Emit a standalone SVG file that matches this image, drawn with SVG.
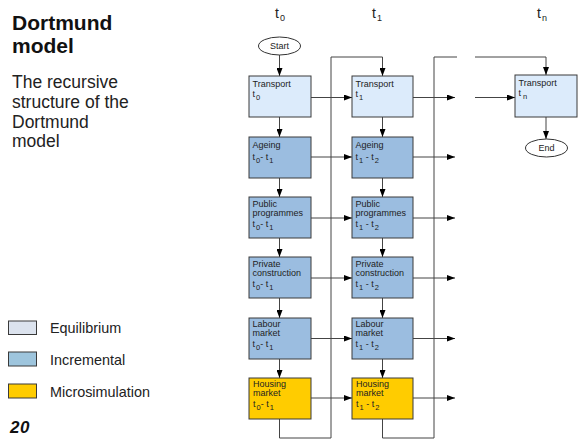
<svg xmlns="http://www.w3.org/2000/svg" width="583" height="443" viewBox="0 0 583 443">
  <style>
    .sans { font-family: "Liberation Sans", Arial, sans-serif; }
    .title { font-size: 21px; font-weight: bold; fill: #111; }
    .desc { font-size: 17.5px; fill: #222; }
    .legend { font-size: 14.4px; fill: #222; }
    .time { font-size: 14px; fill: #222; }
    .time .sub { font-size: 9px; }
    .lbl { font-size: 9px; fill: #222; }
    .lbl .sub { font-size: 7.5px; }
    .box { stroke: #3a3a3a; stroke-width: 1; }
    .equ { fill: #dcebfb; }
    .inc { fill: #9bbde0; }
    .mic { fill: #ffcc00; }
    .term { fill: #fff; stroke: #333; stroke-width: 1; }
    .wire { fill: none; stroke: #444; stroke-width: 1; }
    .arrow { marker-end: url(#head); }
  </style>
  <defs>
    <marker id="head" viewBox="0 0 8 6" refX="8" refY="3" markerWidth="8" markerHeight="6" markerUnits="userSpaceOnUse" orient="auto">
      <path d="M0,0 L8,3 L0,6 Z" fill="#000"/>
    </marker>
  </defs>

  <!-- heading -->
  <g id="heading" class="sans">
    <text class="title" x="12" y="30">Dortmund</text>
    <text class="title" x="12" y="53">model</text>
    <text class="desc" x="12" y="88">The recursive</text>
    <text class="desc" x="12" y="108">structure of the</text>
    <text class="desc" x="12" y="127.5">Dortmund</text>
    <text class="desc" x="12" y="147">model</text>
  </g>

  <!-- legend -->
  <g id="legend" class="sans">
    <rect class="box" x="8.5" y="321" width="28" height="13.5" fill="#dce3ee"/>
    <text class="legend" x="50" y="333">Equilibrium</text>
    <rect class="box" x="8.5" y="352" width="28" height="14" fill="#9ec5dd"/>
    <text class="legend" x="50" y="364.5">Incremental</text>
    <rect class="box" x="8.5" y="384" width="28" height="14" fill="#ffcc00"/>
    <text class="legend" x="50" y="396.5">Microsimulation</text>
  </g>

  <text id="page-number" class="sans" x="10" y="433" font-size="17" font-weight="bold" font-style="italic" fill="#111" letter-spacing="0.5">20</text>

  <!-- time axis -->
  <g id="time-labels" class="sans time">
    <text x="275" y="18">t<tspan class="sub" dx="1" dy="3">0</tspan></text>
    <text x="372" y="18">t<tspan class="sub" dx="1" dy="3">1</tspan></text>
    <text x="537" y="18">t<tspan class="sub" dx="1" dy="3">n</tspan></text>
  </g>

  <!-- connectors -->
  <g id="connectors">
    <!-- start / end -->
    <line class="wire arrow" x1="279.5" y1="55" x2="279.5" y2="76"/>
    <line class="wire arrow" x1="546" y1="117" x2="546" y2="139"/>

    <!-- column t0, top to bottom -->
    <line class="wire arrow" x1="279.5" y1="117" x2="279.5" y2="137"/>
    <line class="wire arrow" x1="279.5" y1="178" x2="279.5" y2="197"/>
    <line class="wire arrow" x1="279.5" y1="238" x2="279.5" y2="257"/>
    <line class="wire arrow" x1="279.5" y1="298" x2="279.5" y2="318"/>
    <line class="wire arrow" x1="279.5" y1="359" x2="279.5" y2="378"/>

    <!-- column t1, top to bottom -->
    <line class="wire arrow" x1="382.5" y1="117" x2="382.5" y2="137"/>
    <line class="wire arrow" x1="382.5" y1="178" x2="382.5" y2="197"/>
    <line class="wire arrow" x1="382.5" y1="238" x2="382.5" y2="257"/>
    <line class="wire arrow" x1="382.5" y1="298" x2="382.5" y2="318"/>
    <line class="wire arrow" x1="382.5" y1="359" x2="382.5" y2="378"/>

    <!-- t0 -> t1 -->
    <line class="wire arrow" x1="311" y1="97.5" x2="352" y2="97.5"/>
    <line class="wire arrow" x1="311" y1="157" x2="352" y2="157"/>
    <line class="wire arrow" x1="311" y1="218" x2="352" y2="218"/>
    <line class="wire arrow" x1="311" y1="278" x2="352" y2="278"/>
    <line class="wire arrow" x1="311" y1="338.5" x2="352" y2="338.5"/>
    <line class="wire arrow" x1="311" y1="398" x2="352" y2="398"/>

    <!-- t1 -> next step -->
    <line class="wire arrow" x1="413" y1="97.5" x2="455" y2="97.5"/>
    <line class="wire arrow" x1="413" y1="157" x2="455" y2="157"/>
    <line class="wire arrow" x1="413" y1="218" x2="455" y2="218"/>
    <line class="wire arrow" x1="413" y1="278" x2="455" y2="278"/>
    <line class="wire arrow" x1="413" y1="338.5" x2="455" y2="338.5"/>
    <line class="wire arrow" x1="413" y1="398" x2="455" y2="398"/>

    <!-- feedback loops -->
    <path class="wire arrow" d="M279.5,419 V438 H331 V57 H382.5 V76"/>
    <path class="wire" d="M382.5,419 V438 H434 V57 H457"/>
    <path class="wire arrow" d="M475,57 H546 V75"/>
    <line class="wire arrow" x1="475" y1="97.5" x2="515" y2="97.5"/>
  </g>

  <!-- terminals -->
  <g id="start" class="sans">
    <ellipse class="term" cx="279.5" cy="46" rx="21" ry="9"/>
    <text class="lbl" x="279.5" y="49" text-anchor="middle">Start</text>
  </g>
  <g id="end" class="sans">
    <ellipse class="term" cx="546.5" cy="148" rx="21" ry="9"/>
    <text class="lbl" x="546.5" y="151" text-anchor="middle">End</text>
  </g>

  <!-- column t0 -->
  <g id="transport-t0" class="sans">
    <rect class="box equ" x="249" y="76" width="62" height="41"/>
    <text class="lbl" x="252.5" y="87">Transport</text>
    <text class="lbl" x="252.5" y="97">t<tspan class="sub" dx="1" dy="2.5">0</tspan></text>
  </g>
  <g id="ageing-t0" class="sans">
    <rect class="box inc" x="249" y="137" width="62" height="41"/>
    <text class="lbl" x="252.5" y="148">Ageing</text>
    <text class="lbl" x="252.5" y="160">t<tspan class="sub" dx="1" dy="2.5">0</tspan><tspan dy="-2.5">- t</tspan><tspan class="sub" dx="1" dy="2.5">1</tspan></text>
  </g>
  <g id="public-t0" class="sans">
    <rect class="box inc" x="249" y="197" width="62" height="41"/>
    <text class="lbl" x="252.5" y="207">Public</text>
    <text class="lbl" x="252.5" y="215.5">programmes</text>
    <text class="lbl" x="252.5" y="227">t<tspan class="sub" dx="1" dy="2.5">0</tspan><tspan dy="-2.5">- t</tspan><tspan class="sub" dx="1" dy="2.5">1</tspan></text>
  </g>
  <g id="private-t0" class="sans">
    <rect class="box inc" x="249" y="257" width="62" height="41"/>
    <text class="lbl" x="252.5" y="267">Private</text>
    <text class="lbl" x="252.5" y="275.5">construction</text>
    <text class="lbl" x="252.5" y="287">t<tspan class="sub" dx="1" dy="2.5">0</tspan><tspan dy="-2.5">- t</tspan><tspan class="sub" dx="1" dy="2.5">1</tspan></text>
  </g>
  <g id="labour-t0" class="sans">
    <rect class="box inc" x="249" y="318" width="62" height="41"/>
    <text class="lbl" x="252.5" y="327">Labour</text>
    <text class="lbl" x="252.5" y="335.5">market</text>
    <text class="lbl" x="252.5" y="347">t<tspan class="sub" dx="1" dy="2.5">0</tspan><tspan dy="-2.5">- t</tspan><tspan class="sub" dx="1" dy="2.5">1</tspan></text>
  </g>
  <g id="housing-t0" class="sans">
    <rect class="box mic" x="249" y="378" width="62" height="41"/>
    <text class="lbl" x="253" y="387">Housing</text>
    <text class="lbl" x="253" y="395.5">market</text>
    <text class="lbl" x="253" y="407">t<tspan class="sub" dx="1" dy="2.5">0</tspan><tspan dy="-2.5">- t</tspan><tspan class="sub" dx="1" dy="2.5">1</tspan></text>
  </g>

  <!-- column t1 -->
  <g id="transport-t1" class="sans">
    <rect class="box equ" x="352" y="76" width="61" height="41"/>
    <text class="lbl" x="355.5" y="87">Transport</text>
    <text class="lbl" x="355.5" y="97">t<tspan class="sub" dx="1" dy="2.5">1</tspan></text>
  </g>
  <g id="ageing-t1" class="sans">
    <rect class="box inc" x="352" y="137" width="61" height="41"/>
    <text class="lbl" x="355.5" y="148">Ageing</text>
    <text class="lbl" x="355.5" y="160">t<tspan class="sub" dx="1" dy="2.5">1</tspan><tspan dy="-2.5"> - t</tspan><tspan class="sub" dx="1" dy="2.5">2</tspan></text>
  </g>
  <g id="public-t1" class="sans">
    <rect class="box inc" x="352" y="197" width="61" height="41"/>
    <text class="lbl" x="355.5" y="207">Public</text>
    <text class="lbl" x="355.5" y="215.5">programmes</text>
    <text class="lbl" x="355.5" y="227">t<tspan class="sub" dx="1" dy="2.5">1</tspan><tspan dy="-2.5"> - t</tspan><tspan class="sub" dx="1" dy="2.5">2</tspan></text>
  </g>
  <g id="private-t1" class="sans">
    <rect class="box inc" x="352" y="257" width="61" height="41"/>
    <text class="lbl" x="355.5" y="267">Private</text>
    <text class="lbl" x="355.5" y="275.5">construction</text>
    <text class="lbl" x="355.5" y="287">t<tspan class="sub" dx="1" dy="2.5">1</tspan><tspan dy="-2.5"> - t</tspan><tspan class="sub" dx="1" dy="2.5">2</tspan></text>
  </g>
  <g id="labour-t1" class="sans">
    <rect class="box inc" x="352" y="318" width="61" height="41"/>
    <text class="lbl" x="355.5" y="327">Labour</text>
    <text class="lbl" x="355.5" y="335.5">market</text>
    <text class="lbl" x="355.5" y="347">t<tspan class="sub" dx="1" dy="2.5">1</tspan><tspan dy="-2.5"> - t</tspan><tspan class="sub" dx="1" dy="2.5">2</tspan></text>
  </g>
  <g id="housing-t1" class="sans">
    <rect class="box mic" x="352" y="378" width="61" height="41"/>
    <text class="lbl" x="356" y="387">Housing</text>
    <text class="lbl" x="356" y="395.5">market</text>
    <text class="lbl" x="356" y="407">t<tspan class="sub" dx="1" dy="2.5">1</tspan><tspan dy="-2.5"> - t</tspan><tspan class="sub" dx="1" dy="2.5">2</tspan></text>
  </g>

  <!-- column tn -->
  <g id="transport-tn" class="sans">
    <rect class="box equ" x="515" y="75" width="62" height="42"/>
    <text class="lbl" x="518.5" y="86">Transport</text>
    <text class="lbl" x="518.5" y="96">t<tspan class="sub" dx="2" dy="2.5">n</tspan></text>
  </g>
</svg>
